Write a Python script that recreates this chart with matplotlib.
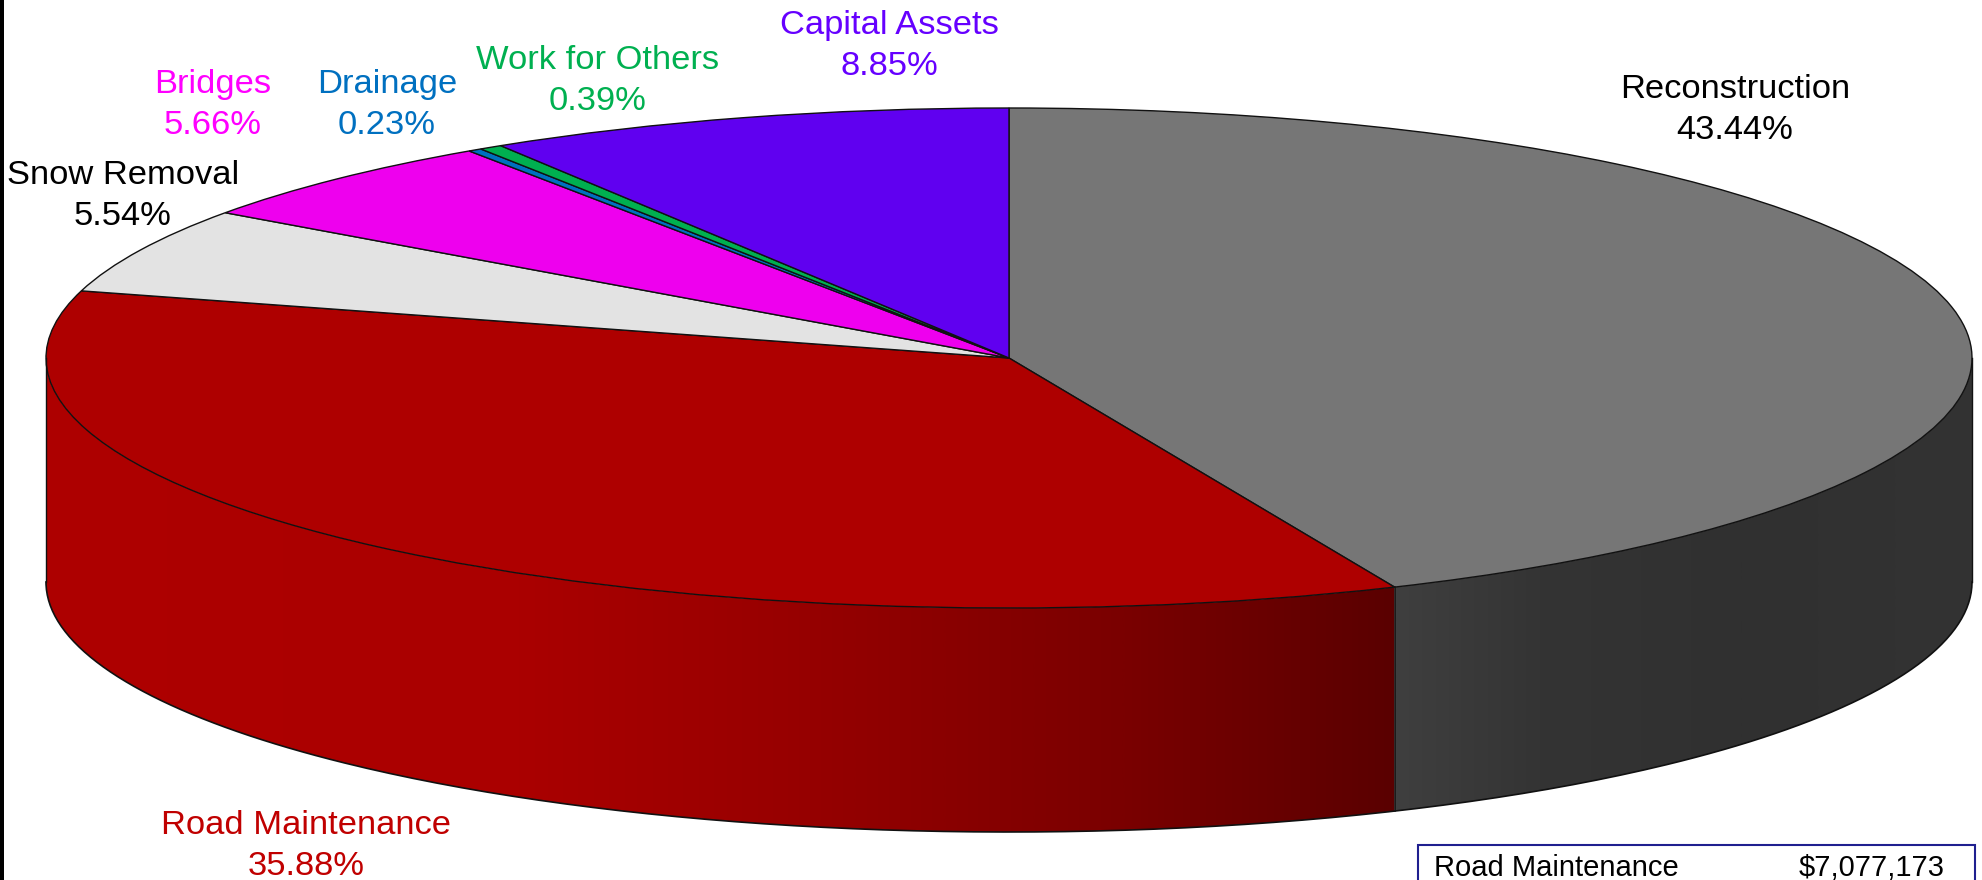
import numpy as np
import matplotlib
matplotlib.use("Agg")
import matplotlib.pyplot as plt
from matplotlib.colors import LinearSegmentedColormap
from matplotlib.patches import Polygon, Rectangle

plt.rcParams['font.family'] = ['Liberation Sans', 'DejaVu Sans']

categories = ["Reconstruction", "Road Maintenance", "Snow Removal", "Bridges",
              "Drainage", "Work for Others", "Capital Assets"]
shares = [43.44, 35.88, 5.54, 5.66, 0.23, 0.39, 8.85]
colors = ["#767676", "#AE0000", "#E3E3E3", "#EE00EE", "#0070C0", "#00B050", "#6000F0"]
text_colors = ["black", "#C00000", "black", "#FF00FF", "#0070C0", "#00B050", "#6600FF"]
table_name = "Road Maintenance"
table_value = "$7,077,173"

W, H = 1982, 880
CX, CY, RX, RY, DEPTH = 1009, 358, 963, 250, 224
EDGE = "#111111"

fig = plt.figure(figsize=(W / 100, H / 100), dpi=100, facecolor="white")
bg = fig.add_axes([0, 0, 1, 1])
bg.set_xlim(0, W); bg.set_ylim(H, 0); bg.axis("off")
bg.add_patch(Rectangle((0, 0), 4, H, color="black", lw=0))

# pie axes: unit circle squashed to the ellipse, extended down to hold the wall
depth = DEPTH / RY
ax = fig.add_axes([(CX - RX) / W, 1 - (CY + RY + DEPTH) / H,
                   2 * RX / W, (2 * RY + DEPTH) / H])
ax.patch.set_visible(False)
ax.pie(shares, colors=colors, startangle=90, counterclock=False, radius=1,
       wedgeprops=dict(edgecolor=EDGE, linewidth=1.0), normalize=True)
ax.set_aspect("auto")

frac = np.cumsum([0] + shares) / sum(shares)

# side wall: horizontal gradients clipped to the visible part of each slice
side_stops = {
    0: [(0.0, "#3F3F3F"), (0.25, "#343434"), (0.6, "#303030"), (1.0, "#333333")],
    1: [(0.0, "#AE0000"), (0.35, "#AA0000"), (0.55, "#980000"), (0.80, "#7A0000"), (1.0, "#5A0000")],
}
border_x = np.sin(frac[1] * 2 * np.pi)
spans = {0: (border_x, 1.0), 1: (-1.0, border_x)}
for i in (0, 1):
    a0 = frac[i] * 2 * np.pi
    a1 = frac[i + 1] * 2 * np.pi
    th = np.linspace(max(a0, np.pi / 2), min(a1, 1.5 * np.pi), 200)
    x, y = np.sin(th), np.cos(th)
    pts = np.r_[np.c_[x, y], np.c_[x, y - depth][::-1]]
    clip = Polygon(pts, closed=True, transform=ax.transData, fc="none", ec="none")
    ax.add_patch(clip)
    cmap = LinearSegmentedColormap.from_list(f"side{i}", side_stops[i])
    im = ax.imshow(np.linspace(0, 1, 512)[None, :], cmap=cmap, aspect="auto",
                   extent=[spans[i][0], spans[i][1], -1 - depth, 1], zorder=0.5,
                   interpolation="bilinear")
    im.set_clip_path(clip)
ax.set_aspect("auto")
ax.set_xlim(-1, 1); ax.set_ylim(-1 - depth, 1)

# outlines of the wall
th = np.linspace(np.pi / 2, 1.5 * np.pi, 300)
ax.plot(np.sin(th), np.cos(th) - depth, color=EDGE, lw=1.2, clip_on=False, zorder=3)
for xv in (1, -1):
    ax.plot([xv, xv], [0, -depth], color=EDGE, lw=1.0, clip_on=False, zorder=3)
a = frac[1] * 2 * np.pi
ax.plot([np.sin(a)] * 2, [np.cos(a), np.cos(a) - depth], color=EDGE, lw=1.1, clip_on=False, zorder=3)

# labels (pixel anchored)
label_xy = [(1735, 110), (306, 846), (123, 196), (213, 105), (387, 105), (598, 81), (889, 46)]
for name, val, c, (x, y) in zip(categories, shares, text_colors, label_xy):
    bg.text(x, y, f"{name}\n{val:.2f}%", color=c, fontsize=24.8, ha="center", va="center", linespacing=1.38)

# value box
bg.add_patch(Rectangle((1418, 845), 557, 60, fc="white", ec="#1F1F8F", lw=1.5, zorder=5))
bg.text(1434, 868, table_name, fontsize=21, va="center", ha="left", zorder=6)
bg.text(1945, 868, table_value, fontsize=21, va="center", ha="right", zorder=6)

fig.savefig("out.png", dpi=100, facecolor="white")
